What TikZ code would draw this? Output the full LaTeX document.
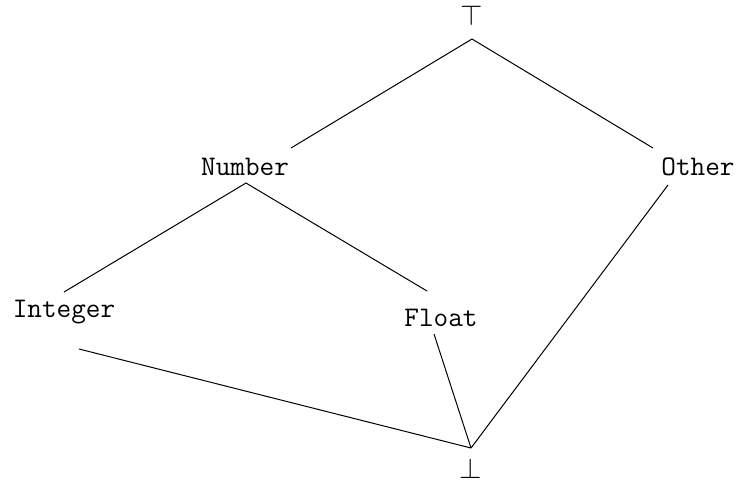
\documentclass[tikz,border=0pt]{standalone}
\begin{document}
\begin{tikzpicture}[x=0.5pt,y=-0.5pt,
  lbl/.style={font=\fontsize{14.2}{17}\selectfont\ttfamily, inner sep=0pt},
  sym/.style={font=\fontsize{13.6}{16}\selectfont, inner sep=0pt},
  edge/.style={line width=0.5pt}]
\useasboundingbox (0,0) rectangle (737,483);
\node[sym] (top) at (472,15) {$\top$};
\node[sym] (bot) at (471,468) {$\bot$};
\node[lbl] (number) at (245,167) {Number};
\node[lbl] (other) at (698,167) {Other};
\node[lbl] (integer) at (64,312) {Integer};
\node[lbl] (float) at (441,318) {Float};
\coordinate (topB) at (472,39);
\coordinate (numT) at (291,148);
\coordinate (othT) at (653,148);
\coordinate (numB) at (246,183);
\coordinate (intT) at (64,292);
\coordinate (fltT) at (427,291);
\coordinate (intB) at (79,349);
\coordinate (fltB) at (434,334);
\coordinate (othB) at (668,185);
\coordinate (botT) at (471,448);
\draw[edge] (numT) -- (topB) -- (othT);
\draw[edge] (intT) -- (numB) -- (fltT);
\draw[edge] (intB) -- (botT);
\draw[edge] (fltB) -- (botT);
\draw[edge] (othB) -- (botT);
\end{tikzpicture}
\end{document}
